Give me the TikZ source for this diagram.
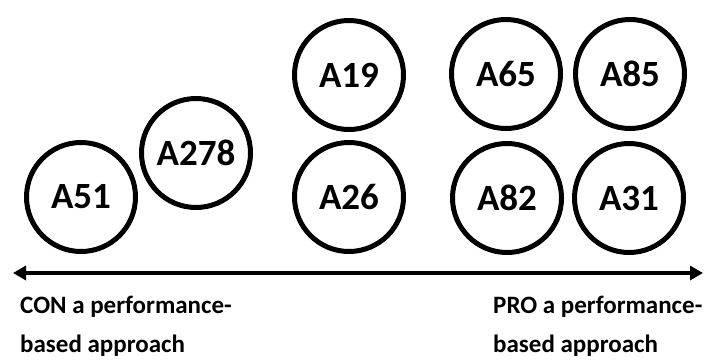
\documentclass[tikz,border=0pt]{standalone}
\usepackage{fontspec}
\setmainfont{Carlito}
\usetikzlibrary{arrows.meta}
\tikzset{
  ring/.style={circle, draw=black, line width=5pt, minimum size=109pt, inner sep=0pt,
    font=\fontsize{37}{40}\selectfont\bfseries},
  caption/.style={anchor=base west, inner sep=0pt, font=\fontsize{25}{28}\selectfont\bfseries},
  axis/.style={line width=3.5pt, {Triangle[length=13pt,width=14pt]}-{Triangle[length=13pt,width=14pt]}}
}
\begin{document}
\begin{tikzpicture}[x=1pt,y=-1pt]
\useasboundingbox (0,0) rectangle (708,359);
\node[ring] (a51) at (81,197) {A51};
\node[ring] (a278) at (196,153) {A278};
\node[ring] (a19) at (349,75) {A19};
\node[ring] (a26) at (349,197) {A26};
\node[ring] (a65) at (506,74) {A65};
\node[ring] (a85) at (630,74) {A85};
\node[ring] (a82) at (507,198) {A82};
\node[ring] (a31) at (629,198) {A31};
\coordinate (left) at (13,273);
\coordinate (right) at (703,273);
\draw[axis] (left) -- (right);
\node[caption] (con1) at (20,313) {CON a performance-};
\node[caption] (con2) at (20,352) {based approach};
\node[caption] (pro1) at (493,313) {PRO a performance-};
\node[caption] (pro2) at (493,352) {based approach};
\end{tikzpicture}
\end{document}
